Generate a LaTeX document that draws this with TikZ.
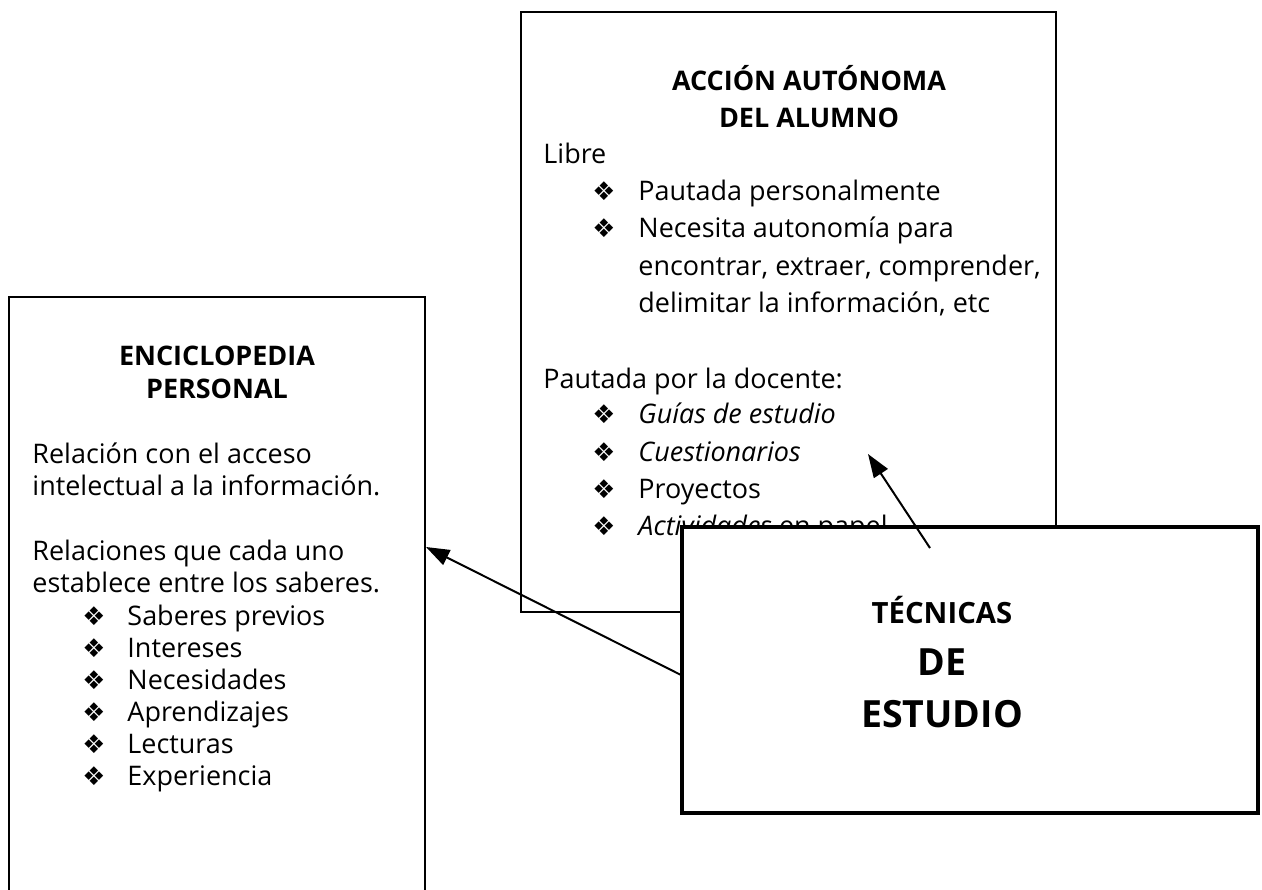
\documentclass[tikz,border=0pt]{standalone}
\usepackage{fontspec}
\setmainfont{Open Sans}
\newfontfamily\dingfont{DejaVu Sans}
\usetikzlibrary{arrows.meta}
\newcommand{\dia}{{\dingfont\symbol{"2756}}}

\tikzset{
  frame/.style={draw=black, line width=0.85pt},
  bigframe/.style={draw=black, line width=1.8pt, fill=white},
  txt/.style={anchor=base west, inner sep=0pt, font=\fontsize{11.5}{14}\selectfont},
  ttl/.style={anchor=base, inner sep=0pt, font=\bfseries\fontsize{11.5}{14}\selectfont},
  bul/.style={anchor=base west, inner sep=0pt, font=\fontsize{11}{13}\selectfont},
  link/.style={line width=0.85pt, -{Triangle[length=10pt,width=7pt]}}
}

\begin{document}
\begin{tikzpicture}[x=0.015cm, y=-0.015cm]
	%%%%% START %%%%%
	\useasboundingbox (0,0) rectangle (1262,890);
	\clip (0,0) rectangle (1262,890);
	
	% accion autonoma del alumno
	\draw[frame] (521,12) rectangle (1056,612);
	\node[ttl] (acc-t1) at (809,90) {ACCIÓN AUTÓNOMA};
	\node[ttl] (acc-t2) at (809,127) {DEL ALUMNO};
	\node[txt] (acc-libre) at (543,163) {Libre};
	\foreach \y/\t in {200/Pautada personalmente, 237/Necesita autonomía para,
		423/{\itshape Guías de estudio}, 461/{\itshape Cuestionarios},
		498/Proyectos, 535/{\itshape Actividades} en papel}{
		\node[bul] (acc-d\y) at (592,\y) {\dia};
		\node[txt] (acc-i\y) at (638,\y) {\t};
	}
	\node[txt] (acc-l3) at (638,275) {encontrar, extraer, comprender,};
	\node[txt] (acc-l4) at (638,312) {delimitar la información, etc};
	\node[txt] (acc-pd) at (543,388) {Pautada por la docente:};
	
	% enciclopedia personal
	\draw[frame] (9,297) rectangle (425,900);
	\node[ttl] (enc-t1) at (217,365) {ENCICLOPEDIA};
	\node[ttl] (enc-t2) at (217,398) {PERSONAL};
	\node[txt] (enc-l1) at (32,463) {Relación con el acceso};
	\node[txt] (enc-l2) at (32,495) {intelectual a la información.};
	\node[txt] (enc-l3) at (32,560) {Relaciones que cada uno};
	\node[txt] (enc-l4) at (32,592) {establece entre los saberes.};
	\foreach \y/\t in {625/Saberes previos, 657/Intereses, 689/Necesidades,
		721/Aprendizajes, 753/Lecturas, 785/Experiencia}{
		\node[bul] (enc-d\y) at (82,\y) {\dia};
		\node[txt] (enc-i\y) at (127,\y) {\t};
	}
	
	% tecnicas de estudio
	\draw[bigframe] (682,527) rectangle (1258,813);
	\node[ttl, font=\bfseries\fontsize{12.5}{14}\selectfont] (tec-t1) at (942,623) {TÉCNICAS};
	\node[ttl, font=\bfseries\fontsize{16}{18}\selectfont] (tec-t2) at (942,675) {DE};
	\node[ttl, font=\bfseries\fontsize{16}{18}\selectfont] (tec-t3) at (942,727) {ESTUDIO};
	
	% flechas
	\coordinate (tec-a) at (930,548);
	\coordinate (acc-a) at (868,454);
	\coordinate (tec-b) at (683,676);
	\coordinate (enc-b) at (426,547);
	\draw[link] (tec-a) -- (acc-a);
	\draw[link] (tec-b) -- (enc-b);
	
	%%%%% END %%%%%
\end{tikzpicture}
\end{document}
